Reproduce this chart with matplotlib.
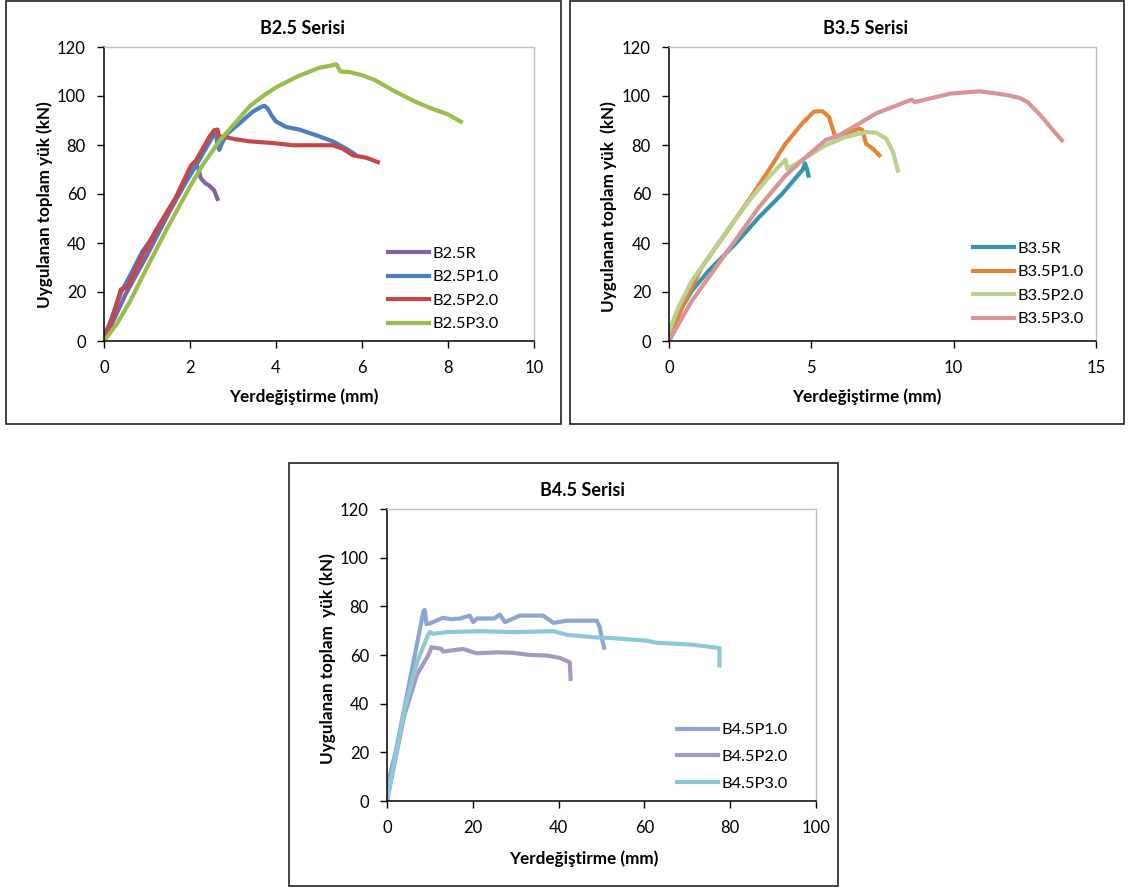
import matplotlib.pyplot as plt
from matplotlib.patches import Rectangle

plt.rcParams['font.family'] = ['Lato', 'DejaVu Sans']

# ---------------- data ----------------
# B2.5 serisi
b25r_x = [0, 0.5, 1.0, 1.5, 2.0, 2.15, 2.2, 2.25, 2.35, 2.45, 2.56, 2.64]
b25r_y = [0, 19, 35, 52, 68, 72, 70, 66.5, 64.5, 63.4, 61.5, 58]

b25p1_x = [0, 0.15, 0.4, 0.66, 0.89, 1.2, 1.44, 1.83, 2.21, 2.52, 2.6, 2.64, 2.68, 2.75, 2.87,
           3.15, 3.46, 3.65, 3.73, 3.8, 3.9, 4.0, 4.23, 4.54, 4.93, 5.32, 5.63, 5.82]
b25p1_y = [2, 8, 20, 28.5, 36.5, 44, 51.8, 62.7, 73.7, 83.3, 84.7, 80, 78, 81, 84.7,
           88.8, 93.6, 95.5, 96, 95, 92, 89.6, 87.4, 86.3, 84, 81.5, 78.5, 76.4]

b25p2_x = [0, 0.19, 0.39, 0.54, 0.82, 1.2, 1.67, 2.02, 2.14, 2.45, 2.56, 2.64, 2.68, 2.8,
           3.07, 3.38, 3.92, 4.39, 4.85, 5.32, 5.55, 5.79, 6.1, 6.37]
b25p2_y = [0, 9.3, 21, 22, 32.6, 45, 58.6, 71.6, 73.7, 83.3, 86, 86.3, 83.3, 83.3,
           82.3, 81.5, 80.8, 79.9, 79.9, 79.9, 78.5, 75.8, 74.8, 73]

b25p3_x = [0, 0.3, 0.6, 1.0, 1.5, 2.0, 2.3, 2.7, 3.0, 3.4, 3.7, 4.0, 4.5, 5.0, 5.3, 5.4,
           5.5, 5.7, 6.0, 6.3, 6.7, 7.2, 7.6, 8.0, 8.3]
b25p3_y = [0, 7, 16, 30, 47, 63, 72, 82, 88, 96, 100, 103.5, 108, 111.5, 112.5, 113,
           110, 109.8, 108.5, 106.5, 102.5, 98, 95, 92.5, 89.5]

# B3.5 serisi
b35r_x = [0, 0.44, 0.79, 1.38, 2.32, 3.15, 3.97, 4.7, 4.78, 4.85, 4.9]
b35r_y = [0, 13.4, 20.3, 28.5, 39.5, 50.4, 60, 70, 72.5, 70, 67.5]

b35p1_x = [0, 0.44, 1.14, 1.97, 2.79, 3.5, 4.09, 4.68, 5.09, 5.39, 5.62, 5.8, 5.86, 6.3,
           6.69, 6.8, 6.92, 7.16, 7.39]
b35p1_y = [0, 13.4, 29.9, 43.6, 57.3, 69.6, 80.5, 88.8, 93.6, 93.8, 91.5, 84.7, 83.3, 85,
           86.7, 86, 80.5, 78.5, 75.8]

b35p2_x = [0, 0.32, 0.79, 1.38, 2.2, 2.91, 3.5, 4.09, 4.15, 4.5, 4.8, 5.5, 6.21, 6.92,
           7.28, 7.63, 7.87, 8.04]
b35p2_y = [3.8, 13.4, 24.4, 34, 47.7, 58.6, 66.8, 74, 70.3, 72.5, 74.8, 79.9, 83.3, 85.3,
           85, 82.6, 77.1, 69.6]

b35p3_x = [0, 0.79, 1.97, 3.15, 4.09, 4.8, 5.5, 5.98, 6.69, 7.28, 7.87, 8.52, 8.64, 9.27,
           9.9, 10.53, 10.9, 11.4, 11.9, 12.3, 12.6, 13.05, 13.4, 13.8]
b35p3_y = [0, 16.2, 35.3, 54.5, 67.5, 75, 82, 84, 88.8, 92.9, 95.6, 98.5, 97.5, 99.3,
           101, 101.6, 101.9, 101.2, 100.3, 99.3, 97.5, 92.1, 87.3, 81.9]

# B4.5 serisi
b45p1_x = [0, 0.3, 2, 8.5, 8.8, 9.2, 10, 12, 13, 15, 17, 19.3, 20.1, 21, 25, 26.3, 27.5,
           31, 36.4, 38.8, 41.9, 48.9, 49.6, 50.0, 50.6]
b45p1_y = [0, 8, 20, 78, 78.5, 72.7, 73, 74.5, 75.3, 74.7, 75, 76.2, 73.5, 75, 75, 76.6, 73.5,
           76.2, 76.2, 73.2, 74.1, 74.1, 71.4, 67.3, 63]

b45p2_x = [0, 4, 7, 9.5, 9.96, 10.35, 12.7, 13.1, 17.7, 20.9, 25.5, 29.4, 33.3, 37.2, 40.3,
           42.6, 42.8]
b45p2_y = [0, 35, 52, 59.5, 61.2, 63.2, 62.5, 61.4, 62.5, 60.7, 61.1, 60.9, 60, 59.8, 58.8,
           57, 50.2]

b45p3_x = [0, 4, 7, 9.5, 9.96, 10.7, 13.9, 21.6, 29.4, 38.8, 41.9, 48.1, 52.8, 60.5, 62.9,
           70.7, 76.1, 77.5, 77.5]
b45p3_y = [0, 37, 57, 68, 69.4, 68.7, 69.4, 69.8, 69.4, 69.8, 68.3, 67.3, 66.9, 65.9, 65,
           64.3, 63.2, 62.8, 55.7]

W, H = 1128, 890
fig = plt.figure(figsize=(W / 100, H / 100), dpi=100)


def px_axes(x0, x1, y_top, y_bot):
    return fig.add_axes([x0 / W, 1 - y_bot / H, (x1 - x0) / W, (y_bot - y_top) / H])


def frame(x0, y0, x1, y1):
    fig.add_artist(Rectangle((x0 / W, 1 - y1 / H), (x1 - x0) / W, (y1 - y0) / H,
                             transform=fig.transFigure, fill=False,
                             edgecolor='#222222', linewidth=1.2))


def style(ax, xmax, xstep):
    ax.set_xlim(0, xmax)
    ax.set_ylim(0, 120)
    ax.set_xticks(range(0, xmax + 1, xstep))
    ax.set_yticks(range(0, 121, 20))
    for s in ['top', 'right']:
        ax.spines[s].set_color('#bfbfbf')
        ax.spines[s].set_linewidth(1.0)
    for s in ['left', 'bottom']:
        ax.spines[s].set_color('black')
        ax.spines[s].set_linewidth(1.1)
    ax.tick_params(direction='out', length=5, width=1, labelsize=12, colors='black')
    ax.tick_params(axis='y', pad=8)
    ax.tick_params(axis='x', pad=9)


def legend(ax, x, y, spacing):
    ax.legend(loc='center left', bbox_to_anchor=(x, y), frameon=False, fontsize=11.8,
              handlelength=2.5, handletextpad=0.2, labelspacing=spacing,
              borderpad=0, borderaxespad=0)


lw = 3.0
tfs, lfs = 13, 12.3

# panel 1
frame(6, 1, 561, 424)
ax1 = px_axes(104, 534, 47, 341)
ax1.plot(b25r_x, b25r_y, color='#7f63a3', lw=lw, label='B2.5R')
ax1.plot(b25p1_x, b25p1_y, color='#4a7ebf', lw=lw, label='B2.5P1.0')
ax1.plot(b25p2_x, b25p2_y, color='#c4474a', lw=lw, label='B2.5P2.0')
ax1.plot(b25p3_x, b25p3_y, color='#98be4e', lw=lw, label='B2.5P3.0')
style(ax1, 10, 2)
legend(ax1, 0.66, 0.177, 0.55)
fig.text(302 / W, 1 - 28 / H, 'B2.5 Serisi', ha='center', va='center', fontsize=tfs, fontweight='bold')
fig.text(304 / W, 1 - 397 / H, 'Yerdeğiştirme (mm)', ha='center', va='center', fontsize=lfs, fontweight='bold')
fig.text(45 / W, 1 - 205 / H, 'Uygulanan toplam yük (kN)', ha='center', va='center',
         rotation=90, fontsize=lfs, fontweight='bold')

# panel 2
frame(570, 1, 1124, 424)
ax2 = px_axes(669, 1096, 47, 341)
ax2.plot(b35r_x, b35r_y, color='#3794ad', lw=lw, label='B3.5R')
ax2.plot(b35p1_x, b35p1_y, color='#e4843a', lw=lw, label='B3.5P1.0')
ax2.plot(b35p2_x, b35p2_y, color='#b8d18f', lw=lw, label='B3.5P2.0')
ax2.plot(b35p3_x, b35p3_y, color='#d99593', lw=lw, label='B3.5P3.0')
style(ax2, 15, 5)
legend(ax2, 0.712, 0.194, 0.55)
fig.text(866 / W, 1 - 28 / H, 'B3.5 Serisi', ha='center', va='center', fontsize=tfs, fontweight='bold')
fig.text(867 / W, 1 - 397 / H, 'Yerdeğiştirme (mm)', ha='center', va='center', fontsize=lfs, fontweight='bold')
fig.text(609 / W, 1 - 207 / H, 'Uygulanan toplam yük  (kN)', ha='center', va='center',
         rotation=90, fontsize=lfs, fontweight='bold')

# panel 3
frame(289, 463, 838, 886)
ax3 = px_axes(387, 816, 509, 801)
ax3.plot(b45p1_x, b45p1_y, color='#8ea5d4', lw=lw, label='B4.5P1.0')
ax3.plot(b45p2_x, b45p2_y, color='#a798c2', lw=lw, label='B4.5P2.0')
ax3.plot(b45p3_x, b45p3_y, color='#8dc8d9', lw=lw, label='B4.5P3.0')
style(ax3, 100, 20)
legend(ax3, 0.676, 0.151, 0.75)
fig.text(583 / W, 1 - 490 / H, 'B4.5 Serisi', ha='center', va='center', fontsize=tfs, fontweight='bold')
fig.text(584 / W, 1 - 859 / H, 'Yerdeğiştirme (mm)', ha='center', va='center', fontsize=lfs, fontweight='bold')
fig.text(328 / W, 1 - 659 / H, 'Uygulanan toplam  yük (kN)', ha='center', va='center',
         rotation=90, fontsize=lfs, fontweight='bold')

fig.savefig('out.png', dpi=100)
